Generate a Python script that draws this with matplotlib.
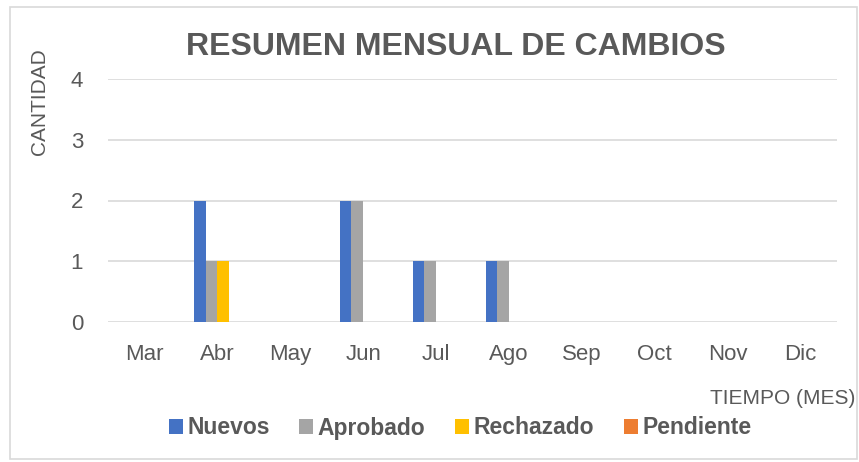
import matplotlib.pyplot as plt
import numpy as np
from matplotlib.patches import Rectangle

plt.rcParams['font.family'] = ['Liberation Sans', 'DejaVu Sans']

meses = ["Mar", "Abr", "May", "Jun", "Jul", "Ago", "Sep", "Oct", "Nov", "Dic"]
nuevos = [0, 2, 0, 2, 1, 1, 0, 0, 0, 0]
aprobado = [0, 1, 0, 2, 1, 1, 0, 0, 0, 0]
rechazado = [0, 1, 0, 0, 0, 0, 0, 0, 0, 0]
pendiente = [0, 0, 0, 0, 0, 0, 0, 0, 0, 0]

series = [("Nuevos", nuevos, "#4472c4"),
          ("Aprobado", aprobado, "#a5a5a5"),
          ("Rechazado", rechazado, "#ffc000"),
          ("Pendiente", pendiente, "#ed7d31")]

gris = "#595959"
fig = plt.figure(figsize=(8.59, 4.62), dpi=100)
ax = fig.add_axes([108 / 859, 1 - 322 / 462, 729 / 859, 243 / 462])

x = np.arange(len(meses))
w = 0.16
for i, (nombre, vals, color) in enumerate(series):
    ax.bar(x + (i - 1.5) * w, vals, width=w, color=color, label=nombre, zorder=3)

ax.set_xlim(-0.5, len(meses) - 0.5)
ax.set_ylim(0, 4)
ax.set_yticks(range(5))
ax.set_xticks(x)
ax.set_xticklabels(meses)
ax.grid(axis="y", color="#d9d9d9", linewidth=1.2, zorder=0)
for s in ax.spines.values():
    s.set_visible(False)
ax.tick_params(length=0, labelsize=16, labelcolor=gris)
ax.tick_params(axis="x", pad=16)
ax.tick_params(axis="y", pad=18)

fig.text(456 / 859, 1 - 47 / 462, "RESUMEN MENSUAL DE CAMBIOS", fontsize=23,
         fontweight="bold", color=gris, ha="center", va="center")
fig.text(40 / 859, 1 - 102 / 462, "CANTIDAD", fontsize=15, color=gris,
         rotation=90, ha="center", va="center")
fig.text(855 / 859, 1 - 398 / 462, "TIEMPO (MES)", fontsize=15, color=gris,
         ha="right", va="center")

fig.legend(loc="center", bbox_to_anchor=(460 / 859, 1 - 428 / 462), ncol=4,
           frameon=False, handlelength=0.6, handleheight=0.6, handletextpad=0.2,
           columnspacing=1.3, prop={"size": 16.5, "weight": "bold"},
           labelcolor=gris)

fig.patches.append(Rectangle((10 / 859, 3 / 462), 847 / 859, 452 / 462,
                             transform=fig.transFigure, fill=False,
                             edgecolor="#d9d9d9", linewidth=1.2))

fig.savefig("out.png", dpi=100)
